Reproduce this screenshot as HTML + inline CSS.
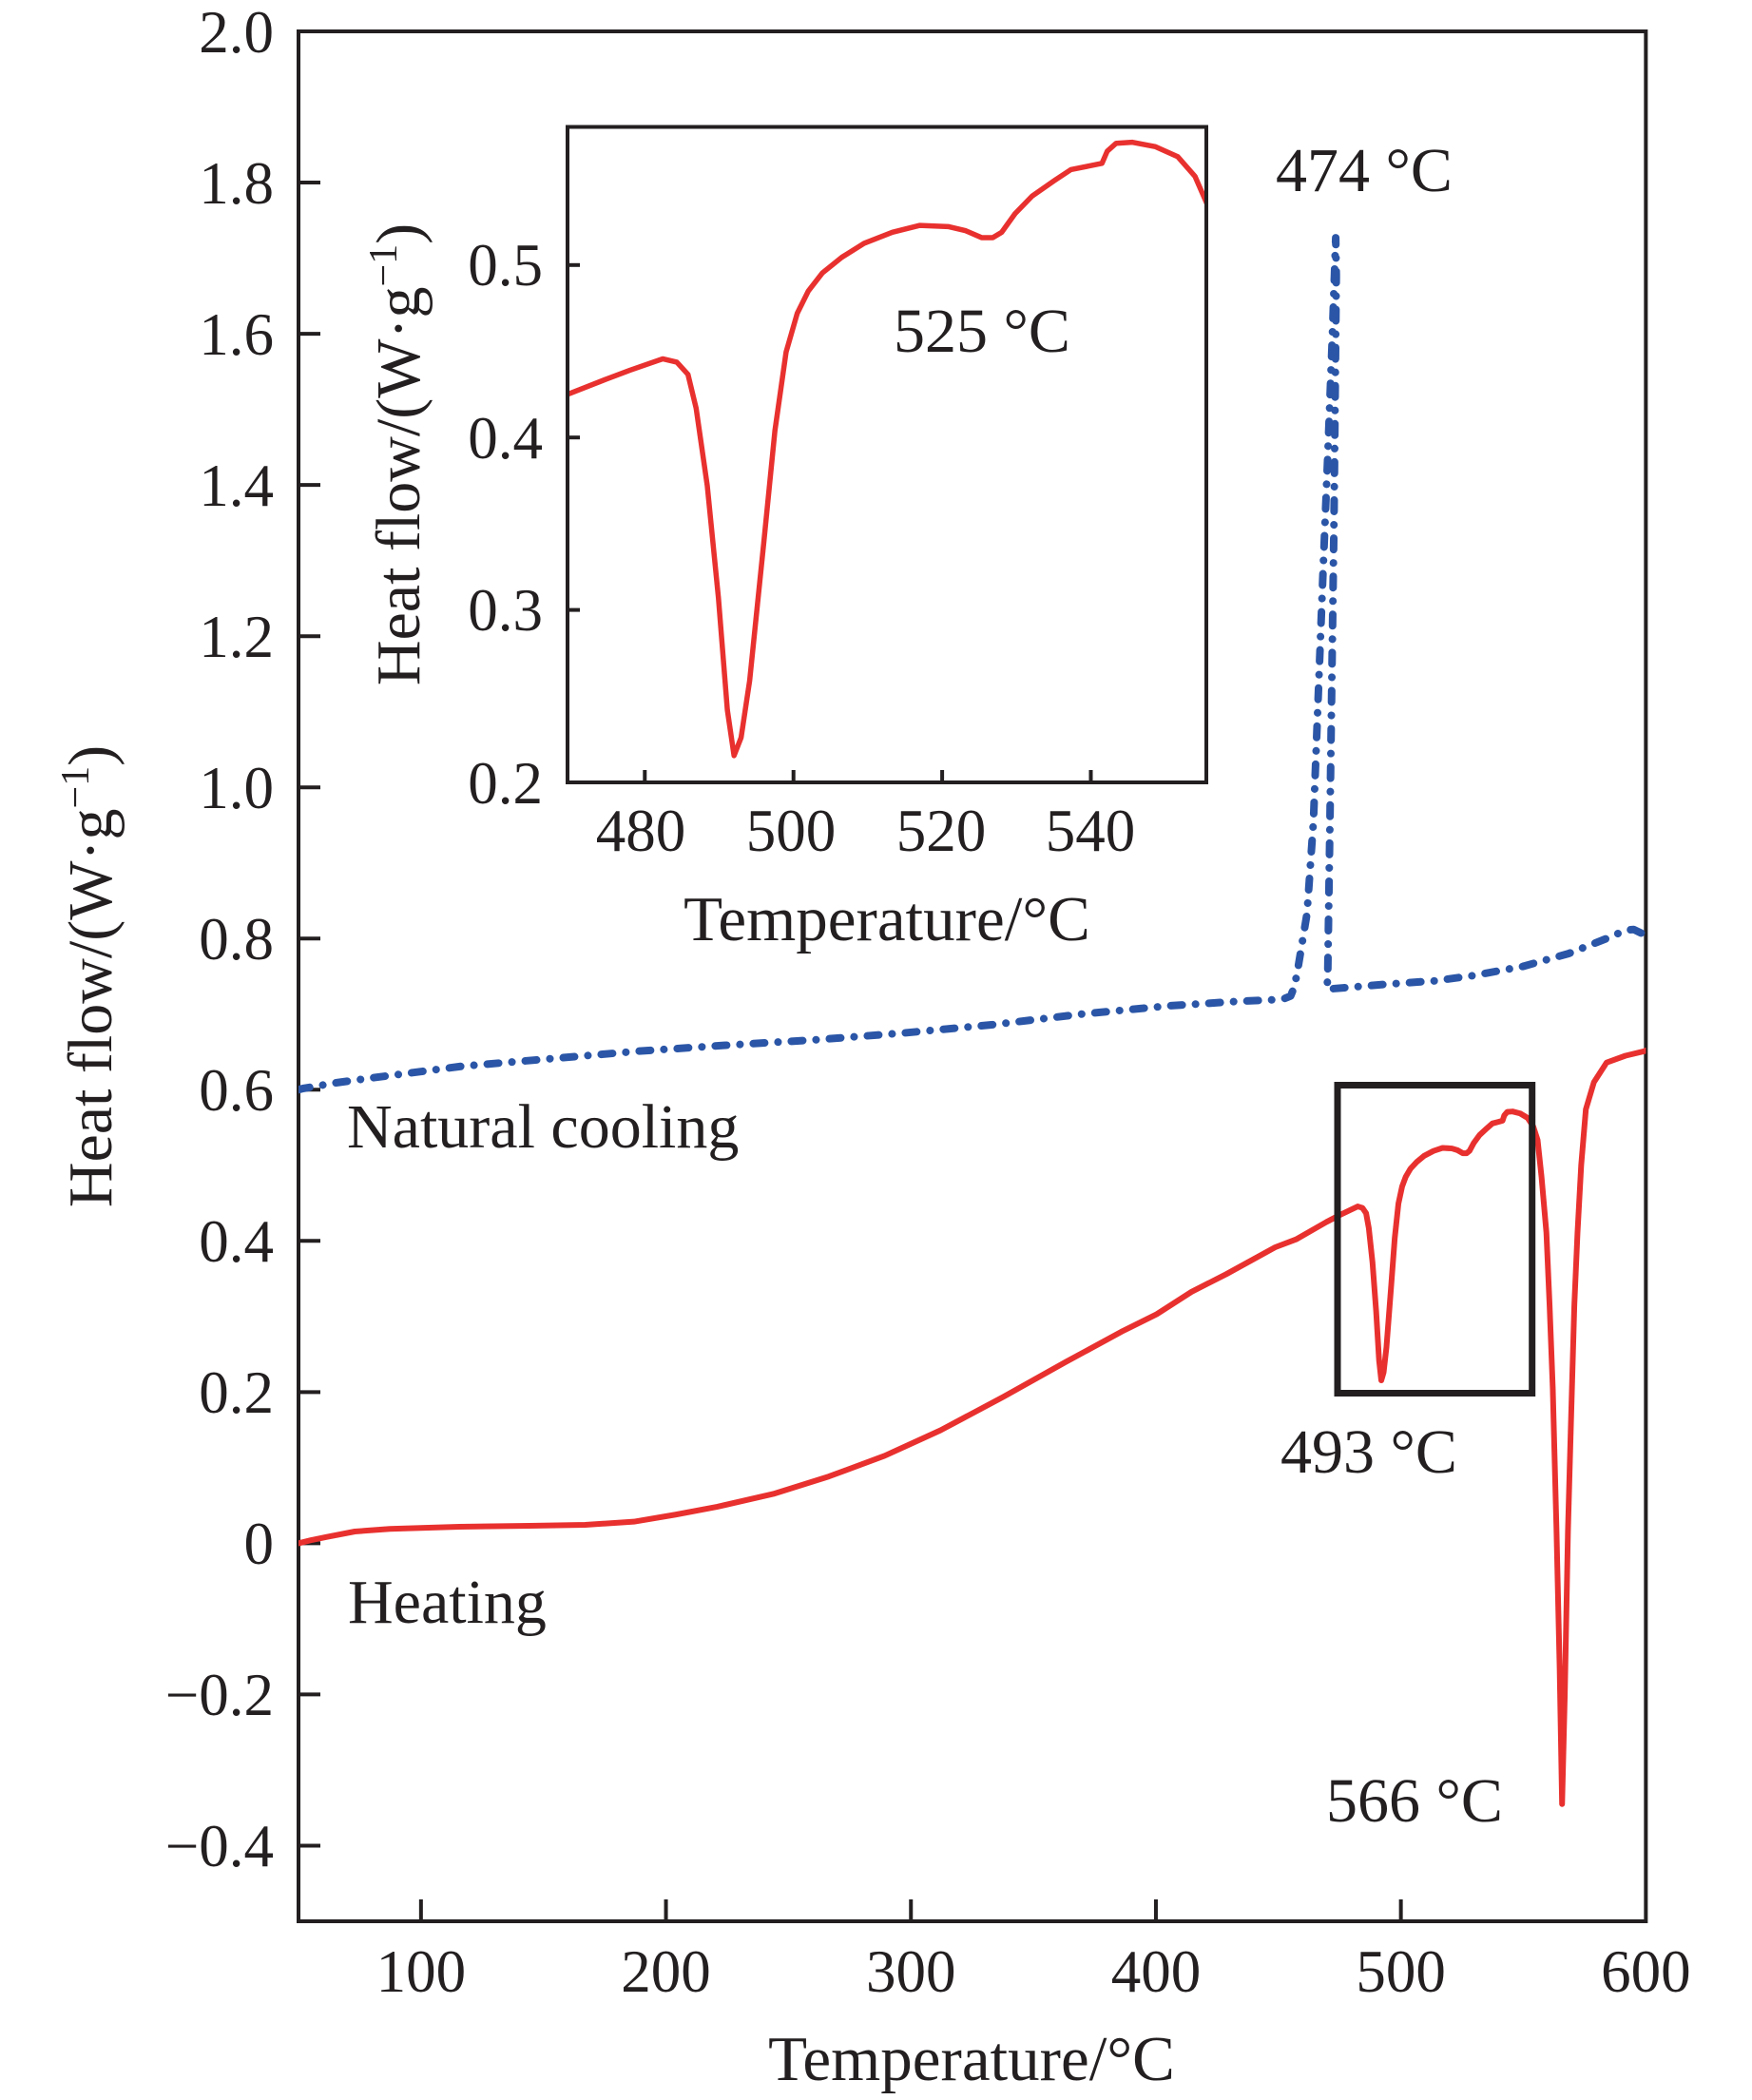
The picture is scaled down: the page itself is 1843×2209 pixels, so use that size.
<!DOCTYPE html>
<html>
<head>
<meta charset="utf-8">
<style>
html,body{margin:0;padding:0;background:#fff;}
svg{display:block;}
text{font-family:"Liberation Serif","Times New Roman",serif;fill:#231f20;}
</style>
</head>
<body>
<svg width="1843" height="2209" viewBox="0 0 1843 2209" xmlns="http://www.w3.org/2000/svg">
<defs>
<clipPath id="insetclip"><rect x="597" y="133.5" width="672" height="689.5"/></clipPath>
<clipPath id="mainclip"><rect x="314" y="33" width="1417.35" height="1988"/></clipPath>
</defs>
<rect width="1843" height="2209" fill="#fff"/>

<rect x="314" y="33" width="1417.35" height="1988" fill="none" stroke="#231f20" stroke-width="4"/>

<g stroke="#231f20" stroke-width="4">
<line x1="314" y1="192.04" x2="337" y2="192.04"/>
<line x1="314" y1="351.1" x2="337" y2="351.1"/>
<line x1="314" y1="510.1" x2="337" y2="510.1"/>
<line x1="314" y1="669.2" x2="337" y2="669.2"/>
<line x1="314" y1="828.2" x2="337" y2="828.2"/>
<line x1="314" y1="987.2" x2="337" y2="987.2"/>
<line x1="314" y1="1146.3" x2="337" y2="1146.3"/>
<line x1="314" y1="1305.3" x2="337" y2="1305.3"/>
<line x1="314" y1="1464.4" x2="337" y2="1464.4"/>
<line x1="314" y1="1623.4" x2="337" y2="1623.4"/>
<line x1="314" y1="1782.4" x2="337" y2="1782.4"/>
<line x1="314" y1="1941.5" x2="337" y2="1941.5"/>
<line x1="442.85" y1="2021" x2="442.85" y2="1998"/>
<line x1="700.55" y1="2021" x2="700.55" y2="1998"/>
<line x1="958.25" y1="2021" x2="958.25" y2="1998"/>
<line x1="1215.95" y1="2021" x2="1215.95" y2="1998"/>
<line x1="1473.65" y1="2021" x2="1473.65" y2="1998"/>
</g>

<g font-size="63" text-anchor="end">
<text x="288" y="55">2.0</text>
<text x="288" y="214">1.8</text>
<text x="288" y="373">1.6</text>
<text x="288" y="532">1.4</text>
<text x="288" y="691">1.2</text>
<text x="288" y="850">1.0</text>
<text x="288" y="1009">0.8</text>
<text x="288" y="1168">0.6</text>
<text x="288" y="1327">0.4</text>
<text x="288" y="1486">0.2</text>
<text x="288" y="1645">0</text>
<text x="288" y="1804">−0.2</text>
<text x="288" y="1963">−0.4</text>
</g>
<g font-size="63" text-anchor="middle">
<text x="442.85" y="2095">100</text>
<text x="700.55" y="2095">200</text>
<text x="958.25" y="2095">300</text>
<text x="1215.95" y="2095">400</text>
<text x="1473.65" y="2095">500</text>
<text x="1731.35" y="2095">600</text>
</g>

<text x="1022" y="2188" font-size="67" text-anchor="middle">Temperature/°C</text>
<text transform="translate(117,1027) rotate(-90)" font-size="66" text-anchor="middle">Heat flow/(W·g<tspan font-size="42" dy="-24">−1</tspan><tspan dy="24">)</tspan></text>

<polyline clip-path="url(#mainclip)" fill="none" stroke="#2b56a7" stroke-width="8" stroke-linecap="round" stroke-linejoin="round" stroke-dasharray="12 14 0.1 14"
points="314.0,1146.3 318.6,1145.0 352.7,1139.1 393.1,1133.6 485.9,1121.6 578.9,1113.7 671.9,1105.7 765.0,1099.4 857.7,1093.8 950.5,1086.6 1044.1,1077.9 1137.1,1066.8 1230.1,1058.0 1304.6,1053.2 1341.9,1051.6 1349.9,1050.9 1357.7,1047.7 1361.8,1037.4 1365.4,1018.3 1374.9,961.0 1381.6,864.8 1386.5,737.5 1391.4,610.3 1396.6,482.3 1401.5,355.0 1405.1,250.1 1405.7,290 1403.3,546 1400.7,738 1399,865 1396.7,1025 1396,1040.5 1462.6,1035.0 1508.9,1031.8 1549.9,1026.2 1601.9,1016.6 1649.9,1003.1 1690.1,987.2 1710.0,978.5 1718.5,977.7 1730.1,983.3 1731.4,984.1"/>

<g clip-path="url(#mainclip)">
<polyline transform="matrix(2.577 0 0 -795.2 185.15 1623.4)" vector-effect="non-scaling-stroke" fill="none" stroke="#e8312f" stroke-width="6" stroke-linejoin="round" stroke-linecap="round"
points="50,0 55,0.004 61.6,0.0084 73,0.0156 87.3,0.019 115.7,0.0219 144.2,0.0232 167,0.0244 186.9,0.0286 203.9,0.0379 221,0.0484 243.8,0.0653 266.5,0.0884 289.3,0.1158 312.1,0.1495 337.7,0.1937 363.3,0.240 386,0.280 400.3,0.303 414.5,0.3326 428.7,0.356 448.7,0.3916 457.2,0.402 469.6,0.425 474.9,0.434 482.4,0.4456 484.3,0.4437 485.8,0.4366 486.9,0.417 488.4,0.372 489.9,0.307 491.1,0.242 492,0.2155 492.95,0.226 494.1,0.259 496,0.339 497.5,0.404 499,0.4495 500.5,0.472 502,0.485 503.9,0.4955 506.5,0.5045 509.5,0.5126 513.3,0.519 517,0.523 520.8,0.5223 523.1,0.52 525.3,0.5159 526.8,0.5159 528,0.519 529.8,0.5298 532.1,0.540 535.1,0.549 537.3,0.5553 539.6,0.5573 541.5,0.559 542.2,0.566 543.4,0.5706 545.6,0.5712 548.7,0.5686 551.7,0.5628 554,0.5515 555.8,0.5337 557.4,0.485 559.4,0.411 560.7,0.315 562,0.205 563.5,0.020 564.8,-0.164 565.8,-0.345 566.9,-0.201 568.2,0.0167 569.5,0.168 570.8,0.315 572.1,0.411 573.6,0.500 575.5,0.574 578.8,0.610 584,0.636 591.7,0.645 599.5,0.651 600,0.652"/>
</g>

<rect x="1407" y="1141.5" width="204.7" height="324" fill="none" stroke="#231f20" stroke-width="7"/>

<g font-size="66">
<text x="1342" y="201">474 °C</text>
<text x="1347" y="1549">493 °C</text>
<text x="1395" y="1916">566 °C</text>
<text x="365" y="1207">Natural cooling</text>
<text x="366" y="1707">Heating</text>
</g>

<rect x="597" y="133.5" width="672" height="689.5" fill="#fff" stroke="none"/>
<g clip-path="url(#insetclip)">
<polyline transform="matrix(7.82 0 0 -1814 -3075.27 1185.8)" vector-effect="non-scaling-stroke" fill="none" stroke="#e8312f" stroke-width="5.5" stroke-linejoin="round" stroke-linecap="round"
points="468,0.422 469.6,0.425 474.9,0.434 478,0.439 482.4,0.4456 484.3,0.4437 485.8,0.4366 486.9,0.417 488.4,0.372 489.9,0.307 491.1,0.242 492,0.2155 492.95,0.226 494.1,0.259 496,0.339 497.5,0.404 499,0.4495 500.5,0.472 502,0.485 503.9,0.4955 506.5,0.5045 509.5,0.5126 513.3,0.519 517,0.523 520.8,0.5223 523.1,0.52 525.3,0.5159 526.8,0.5159 528,0.519 529.8,0.5298 532.1,0.540 535.1,0.549 537.3,0.5553 539.6,0.5573 541.5,0.559 542.2,0.566 543.4,0.5706 545.6,0.5712 548.7,0.5686 551.7,0.5628 554,0.5515 555.8,0.5337 557,0.51"/>
</g>
<rect x="597" y="133.5" width="672" height="689.5" fill="none" stroke="#231f20" stroke-width="4"/>
<g stroke="#231f20" stroke-width="4">
<line x1="597" y1="641.6" x2="610" y2="641.6"/>
<line x1="597" y1="460.2" x2="610" y2="460.2"/>
<line x1="597" y1="278.8" x2="610" y2="278.8"/>
<line x1="678.3" y1="823" x2="678.3" y2="810"/>
<line x1="834.7" y1="823" x2="834.7" y2="810"/>
<line x1="991.1" y1="823" x2="991.1" y2="810"/>
<line x1="1147.5" y1="823" x2="1147.5" y2="810"/>
</g>
<g font-size="63" text-anchor="end">
<text x="571" y="845">0.2</text>
<text x="571" y="663">0.3</text>
<text x="571" y="482">0.4</text>
<text x="571" y="300">0.5</text>
</g>
<g font-size="63" text-anchor="middle">
<text x="674" y="895">480</text>
<text x="832" y="895">500</text>
<text x="990" y="895">520</text>
<text x="1147" y="895">540</text>
</g>
<text x="933" y="989" font-size="67" text-anchor="middle">Temperature/°C</text>
<text transform="translate(441,478) rotate(-90)" font-size="66" text-anchor="middle">Heat flow/(W·g<tspan font-size="42" dy="-24">−1</tspan><tspan dy="24">)</tspan></text>
<text x="940" y="370" font-size="66">525 °C</text>
</svg>
</body>
</html>
